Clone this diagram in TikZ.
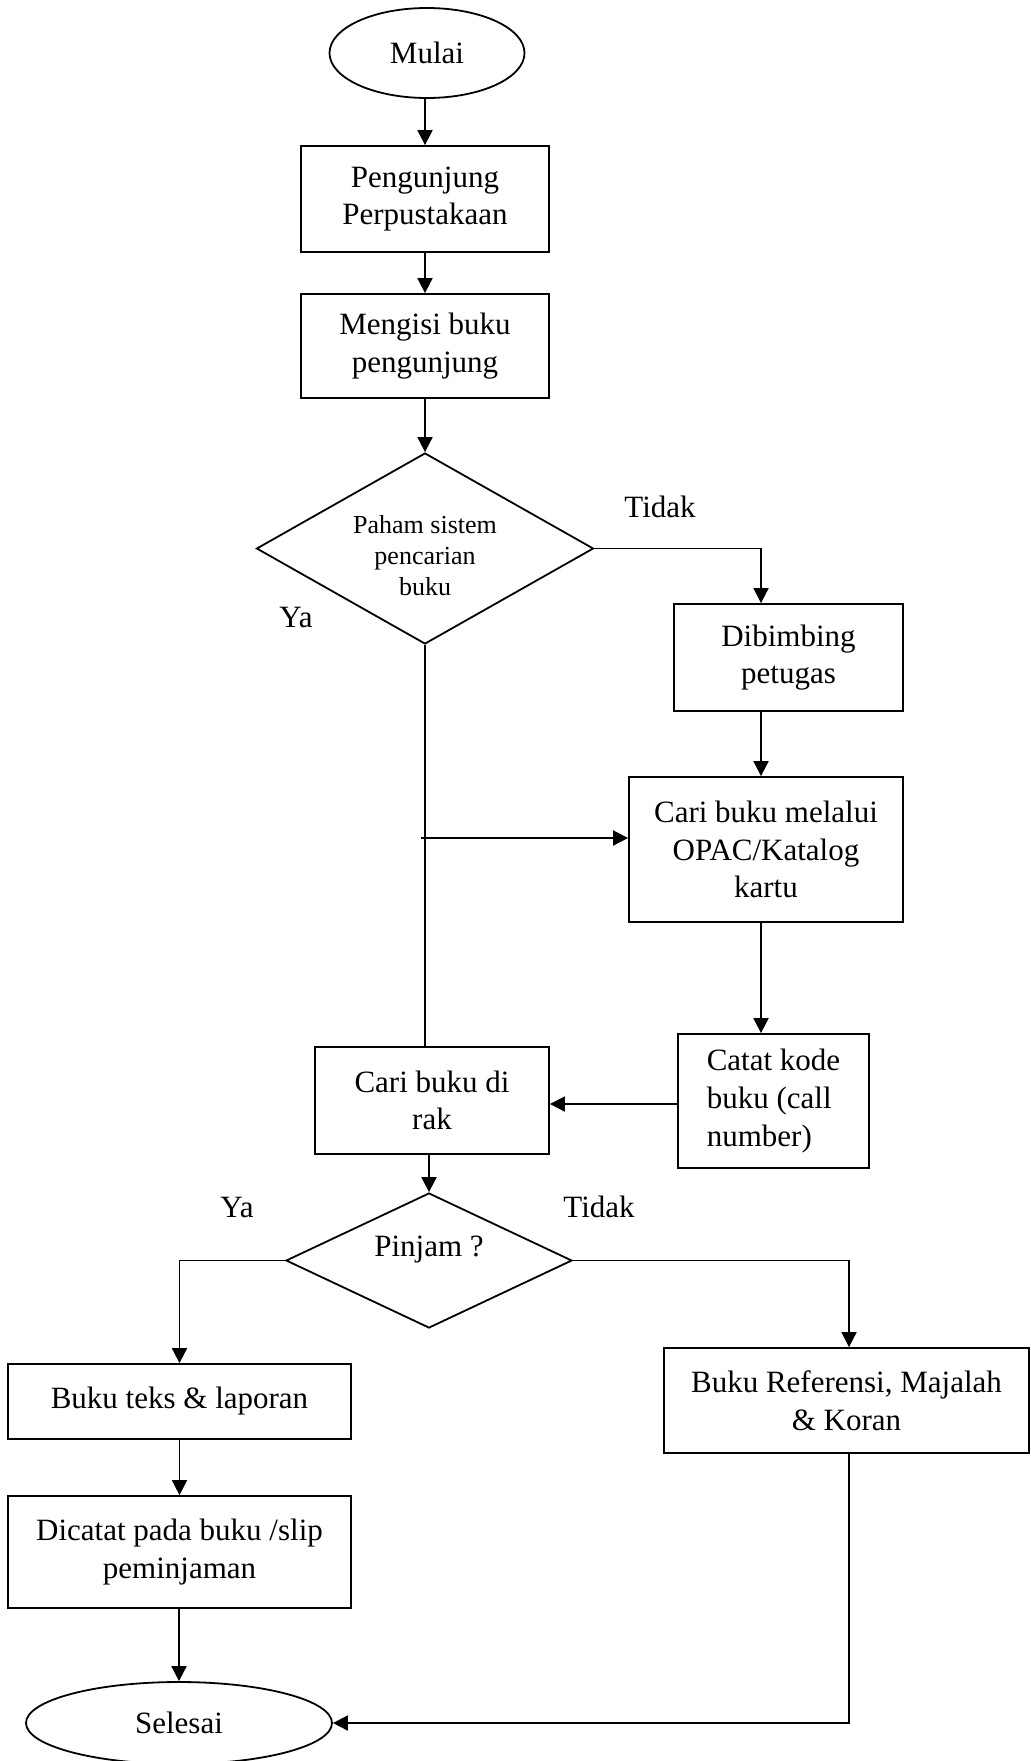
\documentclass[tikz,border=0pt]{standalone}
\usepackage{fontspec}
\setmainfont{Liberation Serif}
\usetikzlibrary{shapes.geometric,arrows.meta}

\begin{document}
\begin{tikzpicture}[x=0.5pt,y=-0.5pt,
  every node/.style={font=\fontsize{15.5pt}{18.8pt}\selectfont},
  flowline/.style={line width=0.9pt},
  arrowline/.style={flowline,-{Triangle[length=7.5pt,width=7.5pt]}},
  terminal/.style={ellipse,draw,line width=0.9pt,inner sep=0pt},
  procbox/.style={rectangle,draw,line width=0.9pt,inner sep=0pt,align=center},
  decision/.style={diamond,draw,line width=0.9pt,inner sep=0pt,aspect=1},
  smalltext/.style={font=\fontsize{13pt}{15.5pt}\selectfont,align=center,inner sep=0pt},
  edgelabel/.style={anchor=base,inner sep=0pt}
]
\useasboundingbox (0,0) rectangle (1030,1761);

% main column
\node[terminal,minimum width=97.5pt,minimum height=45pt] (mulai) at (427,53) {Mulai};
\node[procbox,minimum width=124pt,minimum height=53pt] (p1) at (425,199) {Pengunjung\\Perpustakaan};
\node[procbox,minimum width=124pt,minimum height=52pt] (p2) at (425,346) {Mengisi buku\\pengunjung};
\node[decision,minimum width=168.5pt,minimum height=95.5pt] (d1) at (425,548.5) {};
\node[smalltext] (d1t) at (425,556) {Paham sistem\\pencarian\\buku};

% right branch
\node[procbox,minimum width=114.5pt,minimum height=53.5pt] (dib) at (788.5,657.5) {Dibimbing\\petugas};
\node[procbox,minimum width=137pt,minimum height=72.5pt] (opac) at (766,849.5) {Cari buku melalui\\OPAC/Katalog\\kartu};
\node[procbox,minimum width=95.5pt,minimum height=67pt,align=left] (catat) at (773.5,1101) {Catat kode\\buku (call\\number)};

% shelf search and loan decision
\node[procbox,minimum width=117pt,minimum height=53.5pt] (rak) at (432,1100.5) {Cari buku di\\rak};
\node[decision,minimum width=143pt,minimum height=67.5pt] (d2) at (429,1260.5) {};
\node[inner sep=0pt] (d2t) at (429,1250) {Pinjam ?};

% outcomes
\node[procbox,minimum width=171.5pt,minimum height=37.5pt] (teks) at (179.5,1401.5) {Buku teks \& laporan};
\node[procbox,minimum width=171.5pt,minimum height=56pt] (dicatat) at (179.5,1552) {Dicatat pada buku /slip\\peminjaman};
\node[terminal,minimum width=153pt,minimum height=41pt] (selesai) at (179,1723) {Selesai};
\node[procbox,minimum width=182.5pt,minimum height=52.5pt] (ref) at (846.5,1400.5) {Buku Referensi, Majalah\\\& Koran};

% branch labels
\node[edgelabel] (tidak1) at (660,517) {Tidak};
\node[edgelabel] (ya1) at (296,627) {Ya};
\node[edgelabel] (ya2) at (237,1217) {Ya};
\node[edgelabel] (tidak2) at (599,1217) {Tidak};

% helper points
\coordinate (rx) at (761,0);
\coordinate (br) at (421,838);

% connectors
\draw[arrowline] (mulai.south -| p1.north) -- (p1.north);
\draw[arrowline] (p1) -- (p2);
\draw[arrowline] (p2.south -| d1.north) -- (d1.north);
\draw[arrowline] (d1.east) -| (dib.north -| rx);
\draw[arrowline] (dib.south -| rx) -- (opac.north -| rx);
\draw[arrowline] (opac.south -| rx) -- (catat.north -| rx);
\draw[flowline] (d1.south) -- (d1.south |- rak.north);
\draw[arrowline] (br) -- (br -| opac.west);
\draw[arrowline] (catat.west |- 0,1104) -- (rak.east |- 0,1104);
\draw[arrowline] (rak.south -| d2.north) -- (d2.north);
\draw[arrowline] (d2.west) -| (teks.north);
\draw[arrowline] (teks) -- (dicatat);
\draw[arrowline] (dicatat.south -| selesai.north) -- (selesai.north);
\draw[arrowline] (d2.east) -| (ref.north -| 849,0);
\draw[arrowline] (ref.south -| 849,0) |- (selesai.east);
\end{tikzpicture}
\end{document}
